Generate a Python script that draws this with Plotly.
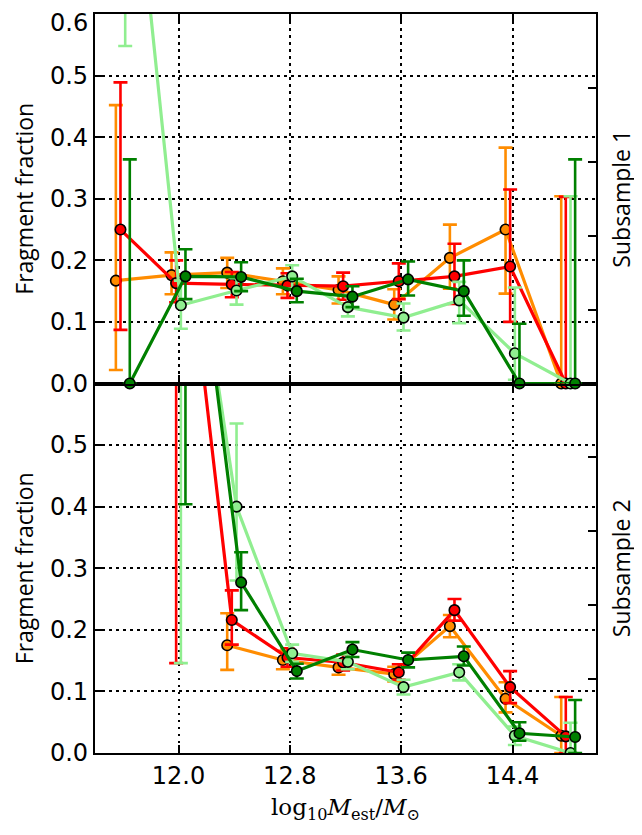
import plotly.graph_objects as go

# ---------------- data ----------------
bin_centers = [11.6, 12.0, 12.4, 12.8, 13.2, 13.6, 14.0, 14.4, 14.8]
series_names = ["orange", "red", "lightgreen", "green"]
series_colors = ["#FF8C00", "#FF0000", "#90EE90", "#008000"]
series_offsets = [-0.05, -0.017, 0.017, 0.05]

# Subsample 1 (top panel)
s1_orange = [0.167, 0.176, 0.180, 0.166, 0.152, 0.128, 0.204, 0.250, 0.0]
s1_orange_up = [0.285, 0.037, 0.024, 0.021, 0.022, 0.025, 0.054, 0.133, 0.304]
s1_orange_dn = [0.145, 0.031, 0.025, 0.021, 0.022, 0.024, 0.050, 0.104, 0.0]

s1_red = [0.250, 0.163, 0.161, 0.159, 0.158, 0.166, 0.174, 0.190, 0.0]
s1_red_up = [0.239, 0.037, 0.020, 0.020, 0.022, 0.029, 0.053, 0.125, 0.303]
s1_red_dn = [0.163, 0.031, 0.021, 0.020, 0.022, 0.029, 0.045, 0.090, 0.0]

s1_lgreen = [1.0, 0.127, 0.151, 0.174, 0.124, 0.107, 0.135, 0.049, 0.0]
s1_lgreen_up = [0.300, 0.040, 0.020, 0.018, 0.020, 0.023, 0.030, 0.107, 0.304]
s1_lgreen_dn = [0.452, 0.038, 0.023, 0.020, 0.015, 0.021, 0.037, 0.043, 0.0]

s1_green = [0.0, 0.174, 0.173, 0.150, 0.141, 0.169, 0.150, 0.0, 0.0]
s1_green_up = [0.364, 0.044, 0.024, 0.020, 0.017, 0.029, 0.050, 0.097, 0.364]
s1_green_dn = [0.0, 0.037, 0.023, 0.018, 0.017, 0.026, 0.040, 0.0, 0.0]

# Subsample 2 (bottom panel)
s2_orange = [None, None, 0.175, 0.151, 0.139, 0.128, 0.206, 0.088, 0.028]
s2_orange_up = [0, 0, 0.052, 0.015, 0.012, 0.012, 0.018, 0.027, 0.063]
s2_orange_dn = [0, 0, 0.040, 0.015, 0.012, 0.012, 0.018, 0.022, 0.028]

s2_red = [None, 1.0, 0.216, 0.155, 0.147, 0.131, 0.232, 0.107, 0.027]
s2_red_up = [0, 0.300, 0.048, 0.015, 0.013, 0.013, 0.018, 0.026, 0.064]
s2_red_dn = [0, 0.854, 0.040, 0.015, 0.013, 0.012, 0.017, 0.026, 0.027]

s2_lgreen = [None, 1.0, 0.400, 0.162, 0.148, 0.107, 0.131, 0.028, 0.0]
s2_lgreen_up = [0, 0.300, 0.135, 0.014, 0.012, 0.012, 0.013, 0.015, 0.049]
s2_lgreen_dn = [0, 0.854, 0.120, 0.014, 0.012, 0.012, 0.013, 0.015, 0.0]

s2_green = [None, 1.0, 0.277, 0.133, 0.168, 0.151, 0.157, 0.032, 0.026]
s2_green_up = [0, 0.300, 0.049, 0.012, 0.012, 0.012, 0.016, 0.018, 0.060]
s2_green_dn = [0, 0.596, 0.045, 0.012, 0.012, 0.012, 0.015, 0.012, 0.026]

x_tickvals = [12.0, 12.8, 13.6, 14.4]
x_ticktext = ["12.0", "12.8", "13.6", "14.4"]
y_tickvals_top = [0.0, 0.1, 0.2, 0.3, 0.4, 0.5, 0.6]
y_ticktext_top = ["0.0", "0.1", "0.2", "0.3", "0.4", "0.5", ""]  # 0.6 drawn below as annotation
y_top_label_val = 0.6
y_top_label_text = "0.6"
y_tickvals_bot = [0.0, 0.1, 0.2, 0.3, 0.4, 0.5]
y_ticktext_bot = ["0.0", "0.1", "0.2", "0.3", "0.4", "0.5"]
twin_tickvals = [0.2, 0.4, 0.6, 0.8]

top_data = [
    (s1_orange, s1_orange_up, s1_orange_dn),
    (s1_red, s1_red_up, s1_red_dn),
    (s1_lgreen, s1_lgreen_up, s1_lgreen_dn),
    (s1_green, s1_green_up, s1_green_dn),
]
bot_data = [
    (s2_orange, s2_orange_up, s2_orange_dn),
    (s2_red, s2_red_up, s2_red_dn),
    (s2_lgreen, s2_lgreen_up, s2_lgreen_dn),
    (s2_green, s2_green_up, s2_green_dn),
]

# ---------------- figure ----------------
fig = go.Figure()


def add_series(vals, up, dn, color, offset, name, xref, yref, clip):
    xs = [c + offset for c in bin_centers]
    fig.add_trace(go.Scatter(
        x=xs, y=vals, mode="lines+markers", name=name,
        xaxis=xref, yaxis=yref, showlegend=False, cliponaxis=clip,
        line=dict(color=color, width=3.2),
        marker=dict(color=color, size=10.5, line=dict(color="black", width=1.6)),
        error_y=dict(type="data", symmetric=False, array=up, arrayminus=dn,
                     color=color, thickness=2.6, width=7),
    ))


for (vals, up, dn), col, off, nm in zip(top_data, series_colors, series_offsets, series_names):
    add_series(vals, up, dn, col, off, nm, "x2", "y2", False)
for (vals, up, dn), col, off, nm in zip(bot_data, series_colors, series_offsets, series_names):
    add_series(vals, up, dn, col, off, nm, "x", "y", True)

# dummy traces so the twin (right) axes get drawn
fig.add_trace(go.Scatter(x=[None], y=[None], xaxis="x2", yaxis="y3", showlegend=False))
fig.add_trace(go.Scatter(x=[None], y=[None], xaxis="x", yaxis="y4", showlegend=False))

tick_font = dict(family="DejaVu Sans", size=24, color="black")
title_font = dict(family="Open Sans", size=23, color="black")

common_x = dict(
    range=[11.4, 15.0], tickvals=x_tickvals, ticktext=x_ticktext,
    ticks="inside", ticklen=8, tickwidth=1.5, tickcolor="black",
    showline=True, linecolor="black", linewidth=2.2, mirror="ticks",
    showgrid=True, gridcolor="black", gridwidth=2, griddash="2.5px,4.5px",
    zeroline=False, tickfont=tick_font, automargin=False,
)
common_y = dict(
    range=[0, 0.6], ticks="inside", ticklen=8, tickwidth=1.5, tickcolor="black",
    showline=True, linecolor="black", linewidth=2.2, mirror=True,
    showgrid=True, gridcolor="black", gridwidth=2, griddash="2.5px,4.5px",
    zeroline=False, tickfont=tick_font, automargin=False,
    ticklabeloverflow="allow",
)
twin_y = dict(
    side="right", range=[0, 1], tickvals=twin_tickvals, ticks="inside",
    ticklen=8, tickwidth=1.5, tickcolor="black", showticklabels=False,
    showgrid=False, showline=False, zeroline=False, automargin=False,
)

# the page body adds an 8px margin, so the figure is drawn 8px smaller
fig.update_layout(
    width=634, height=827,
    margin=dict(l=87, r=46, t=6, b=82),
    plot_bgcolor="white", paper_bgcolor="white",
    xaxis=dict(common_x, anchor="y",
               title=dict(text="log<sub>10</sub><i>M</i><sub>est</sub>/<i>M</i><sub>⊙</sub>",
                          font=dict(family="DejaVu Serif", size=23, color="black"),
                          standoff=10)),
    xaxis2=dict(common_x, anchor="y2", matches="x", showticklabels=False),
    yaxis=dict(common_y, domain=[0, 0.5], anchor="x", tickvals=y_tickvals_bot,
               ticktext=y_ticktext_bot,
               title=dict(text="Fragment fraction", font=title_font, standoff=12)),
    yaxis2=dict(common_y, domain=[0.5, 1.0], anchor="x2", tickvals=y_tickvals_top,
                ticktext=y_ticktext_top,
                title=dict(text="Fragment fraction", font=title_font, standoff=12)),
    yaxis3=dict(twin_y, overlaying="y2", anchor="x2",
                title=dict(text="Subsample 1", font=title_font, standoff=17)),
    yaxis4=dict(twin_y, overlaying="y", anchor="x",
                title=dict(text="Subsample 2", font=title_font, standoff=17)),
    annotations=[dict(
        text=y_top_label_text, xref="x2 domain", x=0, xanchor="right", xshift=-6,
        yref="y2", y=y_top_label_val, yanchor="top", yshift=6, borderpad=0,
        showarrow=False, font=tick_font,
    )],
)

fig.write_html("out.html")
